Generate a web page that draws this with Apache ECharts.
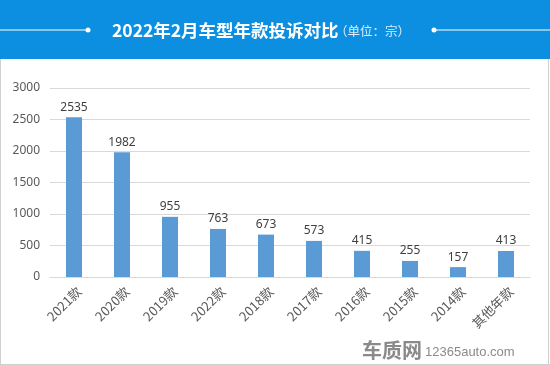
<!DOCTYPE html>
<html><head><meta charset="utf-8">
<script src="https://cdn.jsdelivr.net/npm/echarts@6/dist/echarts.min.js"></script>
<style>html,body{margin:0;padding:0;background:#fff}#c{width:550px;height:365px}</style>
</head><body><div id="c"></div>
<script>
const categories = ['2021款','2020款','2019款','2022款','2018款','2017款','2016款','2015款','2014款','其他年款'];
const values = [2535,1982,955,763,673,573,415,255,157,413];
const yTicks = [0,500,1000,1500,2000,2500,3000];
const titleMain = '2022年2月车型年款投诉对比';
const titleSub = '（单位：宗）';

const chart = echarts.init(document.getElementById('c'));
chart.setOption({
  animation:false,
  backgroundColor:'#fff',
  graphic:[
    {type:'rect',left:0,top:0,shape:{width:550,height:59},style:{fill:'#0c8fe0'},z:0},
    {type:'line',shape:{x1:0,y1:30,x2:88,y2:30},style:{stroke:'#fff',lineWidth:1}},
    {type:'circle',shape:{cx:88,cy:30,r:2.5},style:{fill:'#fff'}},
    {type:'line',shape:{x1:434,y1:30,x2:550,y2:30},style:{stroke:'#fff',lineWidth:1}},
    {type:'circle',shape:{cx:434,cy:30,r:2.5},style:{fill:'#fff'}},
    {type:'text',x:112,y:30,style:{text:titleMain,fill:'#fff',font:'bold 17.5px "Noto Sans CJK SC", sans-serif',verticalAlign:'middle'}},
    {type:'text',x:335,y:31,style:{text:titleSub,fill:'#dbeefa',font:'12.5px "Noto Sans CJK SC", sans-serif',verticalAlign:'middle'}},
    {type:'line',shape:{x1:0.5,y1:59,x2:0.5,y2:365},style:{stroke:'#d0d0d0',lineWidth:1}},
    {type:'line',shape:{x1:548.5,y1:59,x2:548.5,y2:365},style:{stroke:'#d0d0d0',lineWidth:1}},
    {type:'line',shape:{x1:0,y1:364.5,x2:550,y2:364.5},style:{stroke:'#d0d0d0',lineWidth:1}},
    {type:'text',x:362,y:350,style:{text:'车质网',fill:'#8a8a8a',font:'bold 20px "Noto Sans CJK SC", sans-serif',verticalAlign:'middle'}},
    {type:'text',x:425,y:352,style:{text:'12365auto.com',fill:'#8a8a8a',font:'13px "Liberation Sans", sans-serif',verticalAlign:'middle'}}
  ],
  grid:{left:50,right:20,top:88,bottom:88,containLabel:false},
  xAxis:{type:'category',data:categories,
    axisLine:{lineStyle:{color:'#d9d9d9'}},axisTick:{show:false},
    axisLabel:{rotate:45,color:'#595959',fontSize:13,fontFamily:'"Noto Sans CJK SC", sans-serif',interval:0,margin:17,padding:[0,-7,0,0]}},
  yAxis:{type:'value',min:0,max:3000,interval:500,
    axisLine:{show:false},axisTick:{show:false},
    axisLabel:{color:'#595959',fontSize:12,fontFamily:'"Noto Sans", sans-serif',margin:10,
      formatter:v=>yTicks.includes(v)?String(v):''},
    splitLine:{lineStyle:{color:'#d9d9d9'}}},
  series:[{type:'bar',data:values,barWidth:16,itemStyle:{color:'#5b9bd5'},
    label:{show:true,position:'top',color:'#404040',fontSize:12,fontFamily:'"Noto Sans", sans-serif',distance:4}}]
});
</script></body></html>
